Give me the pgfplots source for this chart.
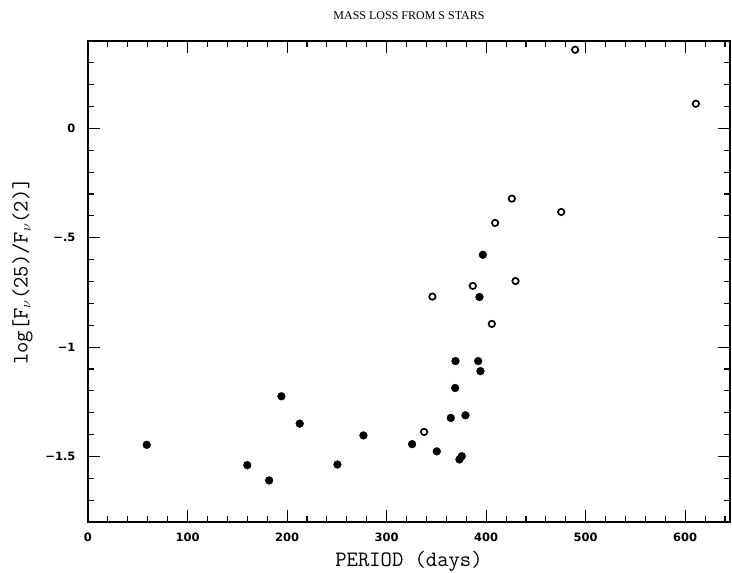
\documentclass[border=0pt]{standalone}
\usepackage{fontspec}
\usepackage{pgfplots}
\pgfplotsset{compat=1.18}
\usetikzlibrary{calc}
\newfontfamily\tickfont{DejaVu Sans}
\newfontfamily\titlefont{Liberation Serif}

\begin{document}
\begin{tikzpicture}[x=1pt,y=1pt]
\begin{axis}[
    name=ax,
    scale only axis,
    width=642pt,
    height=481pt,
    xmin=0, xmax=645,
    ymin=-1.8, ymax=0.4,
    axis line style={line width=1.6pt},
    xtick={0,100,200,300,400,500,600},
    xticklabels={0,100,200,300,400,500,600},
    minor xtick={20,40,60,80,120,140,160,180,220,240,260,280,320,340,360,380,420,440,460,480,520,540,560,580,620,640},
    ytick={-1.5,-1,-0.5,0},
    yticklabels={−1.5,−1,−.5,0},
    minor ytick={-1.7,-1.6,-1.4,-1.3,-1.2,-1.1,-0.9,-0.8,-0.7,-0.6,-0.4,-0.3,-0.2,-0.1,0.1,0.2,0.3},
    tick align=inside,
    major tick length=12pt,
    minor tick length=6pt,
    every tick/.style={black,line width=1.1pt},
    ticklabel style={font=\tickfont\bfseries\fontsize{11.5}{11.5}\selectfont},
    xticklabel style={yshift=-7pt},
    yticklabel style={xshift=-9pt},
    xlabel={PERIOD (days)},
    xlabel style={font=\ttfamily\fontsize{22}{22}\selectfont, yshift=-3pt},
    ylabel={log[F$_\nu$(25)/F$_\nu$(2)]},
    ylabel style={font=\ttfamily\fontsize{22}{22}\selectfont, yshift=6pt, xshift=10pt},
    title={MASS LOSS FROM S STARS},
    title style={font=\titlefont\fontsize{12}{12}\selectfont, yshift=12pt},
    clip=false,
]
% filled circles
\addplot[only marks, mark=*, mark size=3.9pt, black] coordinates {
    (59,-1.447)
    (160,-1.540)
    (182,-1.610)
    (194.3,-1.225)
    (212.7,-1.350)
    (250.6,-1.537)
    (276.7,-1.404)
    (325.6,-1.444)
    (350.4,-1.477)
    (364.5,-1.324)
    (368.8,-1.187)
    (379.2,-1.312)
    (373.2,-1.514)
    (375.5,-1.499)
    (396.7,-0.578)
    (393.3,-0.771)
    (369.2,-1.064)
    (392,-1.064)
    (394.3,-1.110)
};
% open circles
\addplot[only marks, mark=o, mark size=3.2pt, black, mark options={line width=1.7pt}] coordinates {
    (337.7,-1.388)
    (346,-0.769)
    (386.6,-0.720)
    (405.7,-0.894)
    (409,-0.432)
    (425.8,-0.321)
    (429.5,-0.698)
    (475.4,-0.382)
    (489.4,0.360)
    (610.7,0.113)
};
\end{axis}
\pgfresetboundingbox
\path (ax.south west) ++(-88pt,-50pt) rectangle ($(ax.north east)+(2pt,41pt)$);
\end{tikzpicture}
\end{document}
